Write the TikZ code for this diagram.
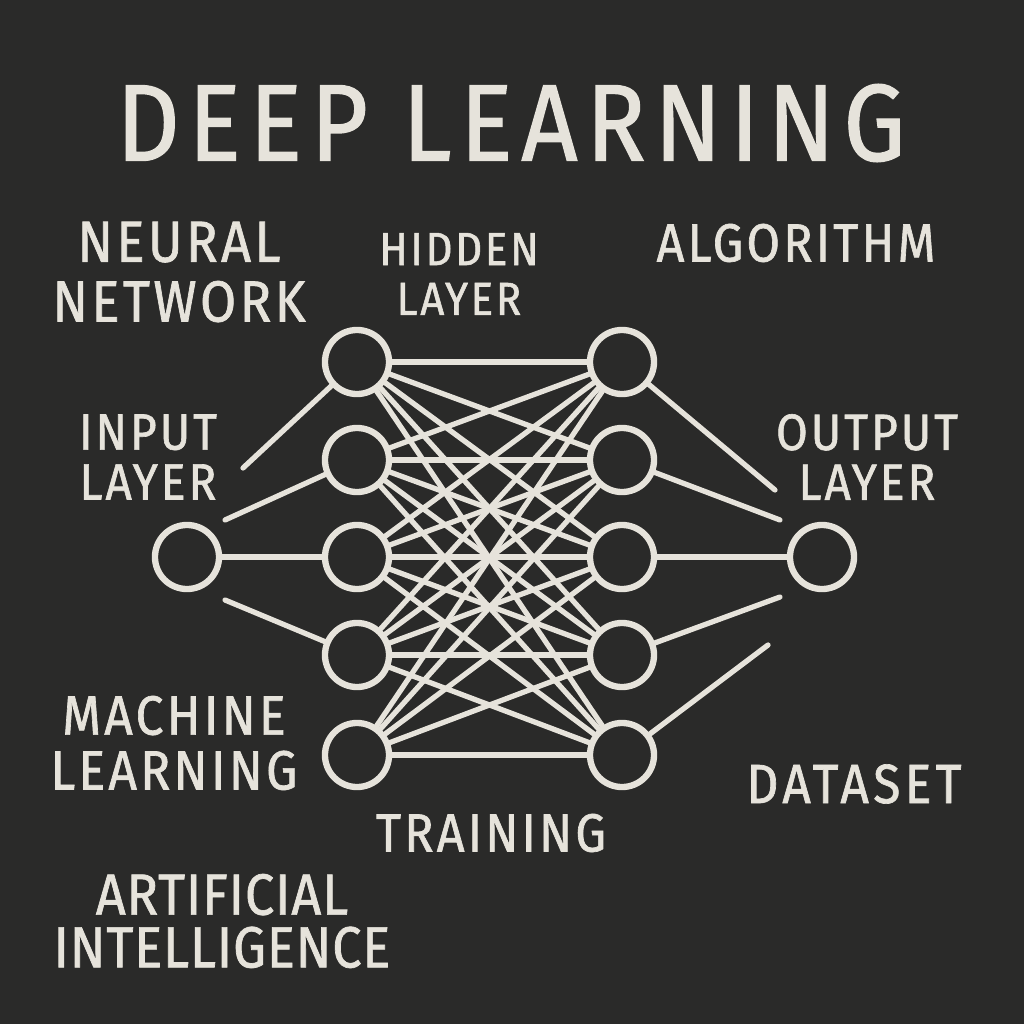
\documentclass[tikz,border=0pt]{standalone}
\usepackage{fontspec}
\setmainfont{Fira Sans}[LetterSpace=6, FakeStretch=0.9, FakeBold=1.2]
\definecolor{board}{HTML}{2A2A29}
\definecolor{chalk}{HTML}{E6E3DB}
\tikzset{
  neuron/.style={circle, draw=chalk, line width=1.8pt, minimum size=0.64cm, inner sep=0pt},
  wire/.style={chalk, line width=1.5pt, line cap=round},
  word/.style={text=chalk, align=center, inner sep=0pt},
}

\begin{document}
\begin{tikzpicture}[x=0.01cm, y=-0.01cm]

% Board
\fill[board] (0,0) rectangle (1024,1024);
\useasboundingbox (0,0) rectangle (1024,1024);

% Title
\node[word, font=\fontsize{31}{36}\selectfont\addfontfeature{LetterSpace=8}] (title) at (511,123) {DEEP LEARNING};

% Neurons
\node[neuron] (in1) at (187,557) {};
\node[neuron] (out1) at (822,557) {};
\foreach \i/\y in {1/362, 2/460, 3/557, 4/655, 5/755} {
  \node[neuron] (ha\i) at (357,\y) {};
  \node[neuron] (hb\i) at (622,\y) {};
}

% Hidden to hidden (all pairs)
\foreach \i in {1,...,5} {
  \foreach \j in {1,...,5} {
    \draw[wire] (ha\i) -- (hb\j);
  }
}

% Input side
\coordinate (s1) at (243,468);
\coordinate (s2) at (225,520);
\coordinate (s4) at (225,600);
\draw[wire] (s1) -- (ha1);
\draw[wire] (s2) -- (ha2);
\draw[wire] (in1) -- (ha3);
\draw[wire] (s4) -- (ha4);

% Output side
\coordinate (t1) at (775,490);
\coordinate (t2) at (780,520);
\coordinate (t4) at (780,597);
\coordinate (t5) at (768,645);
\draw[wire] (hb1) -- (t1);
\draw[wire] (hb2) -- (t2);
\draw[wire] (hb3) -- (out1);
\draw[wire] (hb4) -- (t4);
\draw[wire] (hb5) -- (t5);

% Labels
\node[word, font=\fontsize{16.5}{17}\selectfont] (neural) at (179,272) {NEURAL\\NETWORK};
\node[word, font=\fontsize{13.2}{14.2}\selectfont] (hidden) at (459,274) {HIDDEN\\LAYER};
\node[word, font=\fontsize{15.3}{17}\selectfont] (algo) at (796,243) {ALGORITHM};
\node[word, font=\fontsize{14.5}{14.2}\selectfont] (inlab) at (148,457) {INPUT\\LAYER};
\node[word, font=\fontsize{14.5}{14.2}\selectfont] (outlab) at (867,457) {OUTPUT\\LAYER};
\node[word, font=\fontsize{15.7}{15.6}\selectfont] (ml) at (174,743) {MACHINE\\LEARNING};
\node[word, font=\fontsize{15.3}{17}\selectfont] (train) at (491,833) {TRAINING};
\node[word, font=\fontsize{15.7}{17}\selectfont\addfontfeature{LetterSpace=8}] (data) at (854,784) {DATASET};
\node[word, font=\fontsize{16.5}{15}\selectfont\addfontfeature{LetterSpace=1.5}] (ai) at (222,921) {ARTIFICIAL\\INTELLIGENCE};

\end{tikzpicture}
\end{document}
